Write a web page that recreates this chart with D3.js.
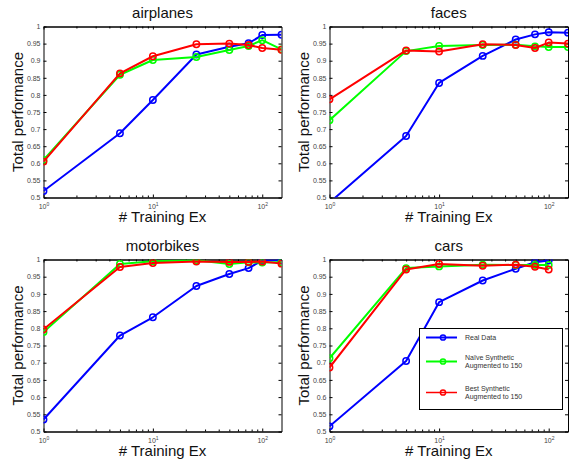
<!DOCTYPE html>
<html>
<head>
<meta charset="utf-8">
<script src="https://cdn.jsdelivr.net/npm/d3@7"></script>
<style>
  html, body { margin: 0; padding: 0; background: #fff; }
  svg { display: block; font-family: "Liberation Sans", Arial, sans-serif; }
</style>
</head>
<body>
<svg id="chart" width="569" height="462"></svg>
<script>
// ---- data ----
const panelNames = ["airplanes", "faces", "motorbikes", "cars"];
const xTrain = [1, 5, 10, 25, 50, 75, 100, 150];
const xTrainCars = [1, 5, 10, 25, 50, 75, 100];

const airplanesReal  = [0.519, 0.688, 0.785, 0.918, 0.941, 0.951, 0.975, 0.976];
const airplanesNaive = [0.610, 0.859, 0.902, 0.911, 0.931, 0.943, 0.960, 0.933];
const airplanesBest  = [0.605, 0.863, 0.913, 0.948, 0.950, 0.946, 0.937, 0.932];

const facesReal  = [0.485, 0.680, 0.835, 0.914, 0.962, 0.977, 0.983, 0.982];
const facesNaive = [0.726, 0.928, 0.943, 0.946, 0.947, 0.942, 0.940, 0.940];
const facesBest  = [0.787, 0.930, 0.927, 0.948, 0.946, 0.937, 0.953, 0.950];

const motorbikesReal  = [0.535, 0.779, 0.832, 0.923, 0.958, 0.975, 0.997, 0.998];
const motorbikesNaive = [0.789, 0.987, 0.995, 0.998, 0.987, 0.992, 0.991, 0.992];
const motorbikesBest  = [0.797, 0.978, 0.990, 0.994, 0.993, 0.993, 0.994, 0.988];

const carsReal  = [0.515, 0.705, 0.876, 0.939, 0.973, 0.992, 0.997];
const carsNaive = [0.713, 0.975, 0.980, 0.985, 0.984, 0.984, 0.984];
const carsBest  = [0.686, 0.971, 0.987, 0.982, 0.985, 0.979, 0.971];

const seriesNames = ["Real Data", "Naïve Synthetic|Augmented to 150", "Best Synthetic|Augmented to 150"];
const seriesColors = ["#0000ff", "#00ff00", "#ff0000"];

const yTickValues = [0.5, 0.55, 0.6, 0.65, 0.7, 0.75, 0.8, 0.85, 0.9, 0.95, 1];
const yTickLabels = ["0.5", "0.55", "0.6", "0.65", "0.7", "0.75", "0.8", "0.85", "0.9", "0.95", "1"];
const xMajorTicks = [1, 10, 100];
const xMajorExp = ["0", "1", "2"];
const xMinorTicks = [2, 3, 4, 5, 6, 7, 8, 9, 20, 30, 40, 50, 60, 70, 80, 90];
const xDomain = [1, 150];
const yDomain = [0.5, 1];
const yLabel = "Total performance";
const xLabel = "# Training Ex";

const panelData = {
  airplanes:  { x: xTrain, s: [airplanesReal, airplanesNaive, airplanesBest] },
  faces:      { x: xTrain, s: [facesReal, facesNaive, facesBest] },
  motorbikes: { x: xTrain, s: [motorbikesReal, motorbikesNaive, motorbikesBest] },
  cars:       { x: xTrainCars, s: [carsReal, carsNaive, carsBest] }
};

// ---- layout ----
const boxes = {
  airplanes:  { l: 43.5, r: 281.5, t: 26.5, b: 197.5 },
  faces:      { l: 329.5, r: 568, t: 26.5, b: 197.5 },
  motorbikes: { l: 43.5, r: 281.5, t: 259.5, b: 431.5 },
  cars:       { l: 329.5, r: 568, t: 259.5, b: 431.5 }
};

const svg = d3.select("#chart");
svg.append("rect").attr("width", 569).attr("height", 462).attr("fill", "#fff");

panelNames.forEach((name, pi) => {
  const bx = boxes[name];
  const d = panelData[name];
  const x = d3.scaleLog().domain(xDomain).range([bx.l, bx.r]);
  const y = d3.scaleLinear().domain(yDomain).range([bx.b, bx.t]);
  const g = svg.append("g");

  // white plot background
  g.append("rect").attr("x", bx.l).attr("y", bx.t)
    .attr("width", bx.r - bx.l).attr("height", bx.b - bx.t).attr("fill", "#fff");

  const clipId = "clip" + pi;
  svg.append("clipPath").attr("id", clipId).append("rect")
    .attr("x", bx.l).attr("y", bx.t).attr("width", bx.r - bx.l).attr("height", bx.b - bx.t);

  // axes
  const styleAxis = sel => {
    sel.selectAll(".domain").attr("stroke", "#000").attr("stroke-width", 1);
    sel.selectAll(".tick line").attr("stroke", "#000").attr("stroke-width", 1);
    sel.selectAll(".tick text").attr("fill", "#444").style("font-size", "7px")
      .style("font-family", "'Liberation Sans', Arial, sans-serif");
  };

  // left
  g.append("g").attr("transform", `translate(${bx.l},0)`)
    .call(d3.axisLeft(y).tickValues(yTickValues)
      .tickFormat((v, i) => yTickLabels[i]).tickSizeInner(-3).tickSizeOuter(0).tickPadding(3))
    .call(styleAxis);
  // right
  g.append("g").attr("transform", `translate(${bx.r},0)`)
    .call(d3.axisRight(y).tickValues(yTickValues).tickFormat("").tickSizeInner(-3).tickSizeOuter(0))
    .call(styleAxis);
  // bottom major
  const bottom = g.append("g").attr("transform", `translate(0,${bx.b})`)
    .call(d3.axisBottom(x).tickValues(xMajorTicks).tickFormat("").tickSizeInner(-3).tickSizeOuter(0).tickPadding(4))
    .call(styleAxis);
  bottom.selectAll(".tick").each(function (v, i) {
    const t = d3.select(this).append("text").attr("fill", "#444").attr("y", 11)
      .attr("text-anchor", "middle").style("font-size", "7px");
    t.append("tspan").text("10");
    t.append("tspan").attr("dy", -3).style("font-size", "5px").text(xMajorExp[i]);
  });
  // bottom minor
  g.append("g").attr("transform", `translate(0,${bx.b})`)
    .call(d3.axisBottom(x).tickValues(xMinorTicks).tickFormat("").tickSizeInner(-2).tickSizeOuter(0))
    .call(styleAxis);
  // top major + minor
  g.append("g").attr("transform", `translate(0,${bx.t})`)
    .call(d3.axisTop(x).tickValues(xMajorTicks).tickFormat("").tickSizeInner(-3).tickSizeOuter(0))
    .call(styleAxis);
  g.append("g").attr("transform", `translate(0,${bx.t})`)
    .call(d3.axisTop(x).tickValues(xMinorTicks).tickFormat("").tickSizeInner(-2).tickSizeOuter(0))
    .call(styleAxis);

  // series
  const plot = g.append("g").attr("clip-path", `url(#${clipId})`);
  d.s.forEach((vals, si) => {
    const pts = vals.map((v, i) => [d.x[i], v]);
    plot.append("path").datum(pts)
      .attr("fill", "none").attr("stroke", seriesColors[si]).attr("stroke-width", 2)
      .attr("stroke-linejoin", "round")
      .attr("d", d3.line().x(p => x(p[0])).y(p => y(p[1])));
    plot.selectAll(null).data(pts).enter().append("circle")
      .attr("cx", p => x(p[0])).attr("cy", p => y(p[1])).attr("r", 3.2)
      .attr("fill", "none").attr("stroke", seriesColors[si]).attr("stroke-width", 1.5);
  });

  // title
  g.append("text").attr("x", (bx.l + bx.r) / 2).attr("y", bx.t - 8.5)
    .attr("text-anchor", "middle").attr("fill", "#111").style("font-size", "15px").text(name);
  // x label
  g.append("text").attr("x", (bx.l + bx.r) / 2).attr("y", bx.b + 24.5)
    .attr("text-anchor", "middle").attr("fill", "#111").style("font-size", "15px").text(xLabel);
  // y label
  g.append("text")
    .attr("transform", `translate(${bx.l - 21},${(bx.t + bx.b) / 2}) rotate(-90)`)
    .attr("text-anchor", "middle").attr("fill", "#111").style("font-size", "15px").text(yLabel);

  // legend for cars
  if (name === "cars") {
    const lg = g.append("g");
    lg.append("rect").attr("x", 419.5).attr("y", 328.5).attr("width", 143).attr("height", 81)
      .attr("fill", "#fff").attr("stroke", "#000").attr("stroke-width", 1);
    const rowsY = [337.5, 361.5, 392.5];
    seriesNames.forEach((nm, si) => {
      const yy = rowsY[si];
      lg.append("line").attr("x1", 426).attr("x2", 457).attr("y1", yy).attr("y2", yy)
        .attr("stroke", seriesColors[si]).attr("stroke-width", si === 2 ? 1.5 : 2);
      lg.append("circle").attr("cx", 443).attr("cy", yy).attr("r", 2.6)
        .attr("fill", "none").attr("stroke", seriesColors[si]).attr("stroke-width", 1.5);
      const parts = nm.split("|");
      const t = lg.append("text").attr("x", 465).attr("fill", "#333").style("font-size", "7px");
      if (parts.length === 1) {
        t.attr("y", yy + 2.5).text(parts[0]);
      } else {
        t.attr("y", yy - 1.5).text(parts[0]);
        lg.append("text").attr("x", 465).attr("y", yy + 6.5).attr("fill", "#333")
          .style("font-size", "7px").text(parts[1]);
      }
    });
  }
});
</script>
</body>
</html>
